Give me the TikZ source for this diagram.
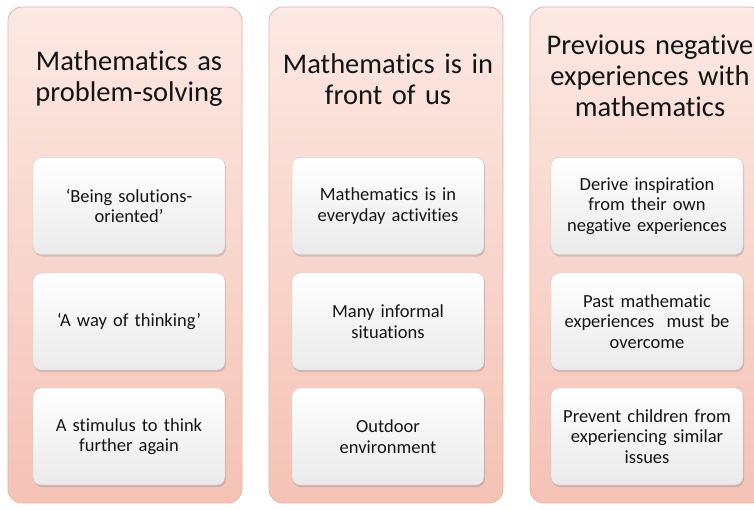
\documentclass[tikz,border=0pt]{standalone}
\usepackage{fontspec}
\setmainfont{Carlito}[Ligatures={NoCommon}]
\usetikzlibrary{shadows}
\definecolor{peachtop}{HTML}{FCE9E3}
\definecolor{peachbot}{HTML}{F5C2B5}
\definecolor{peachrim}{HTML}{EDB2A3}
\definecolor{cardrim}{HTML}{C9C9C9}
\definecolor{cardbot}{HTML}{EAEAEA}
\definecolor{ink}{HTML}{141414}
\tikzset{
  panel/.style={draw=peachrim, line width=.8pt, rounded corners=14pt, top color=peachtop,
    bottom color=peachbot, minimum width=234pt, minimum height=496pt, inner sep=0pt},
  heading/.style={text=ink, text width=240pt, align=center, font=\fontsize{28.5}{31}\selectfont},
  card/.style={draw=cardrim, rounded corners=8pt, top color=white, bottom color=cardbot,
    minimum width=192pt, minimum height=97pt, text width=188pt, align=center, inner sep=0pt,
    text=ink, font=\fontsize{18.5}{20.5}\selectfont,
    drop shadow={opacity=.3, shadow xshift=1pt, shadow yshift=-2pt}}
}

\begin{document}
\begin{tikzpicture}[x=1pt,y=-1pt]
\useasboundingbox (0,0) rectangle (754,509);
\fill[white] (0,0) rectangle (754,509);
% the three columns
\node[panel] (p1) at (125,255) {};
\node[panel] (p2) at (386,255) {};
\node[panel] (p3) at (647,255) {};
\node[heading] (h1) at (129,79) {Mathematics as\\problem-solving};
\node[heading] (h2) at (388,79) {Mathematics is in\\front of us};
\node[heading] (h3) at (650,76) {Previous negative\\experiences with\\mathematics};
% cards, column 1
\node[card] (c11) at (129,206) {‘Being solutions-\\oriented’};
\node[card] (c12) at (129,321.5) {‘A way of thinking’};
\node[card] (c13) at (129,436.5) {A stimulus to think\\further again};
% cards, column 2
\node[card] (c21) at (388,206) {Mathematics is in\\everyday activities};
\node[card] (c22) at (388,321.5) {Many informal\\situations};
\node[card] (c23) at (388,436.5) {Outdoor\\environment};
% cards, column 3
\node[card] (c31) at (647,206) {Derive inspiration\\from their own\\negative experiences};
\node[card] (c32) at (647,321.5) {Past mathematic\\experiences~ must be\\overcome};
\node[card] (c33) at (647,436.5) {Prevent children from\\experiencing similar\\issues};
\end{tikzpicture}
\end{document}
